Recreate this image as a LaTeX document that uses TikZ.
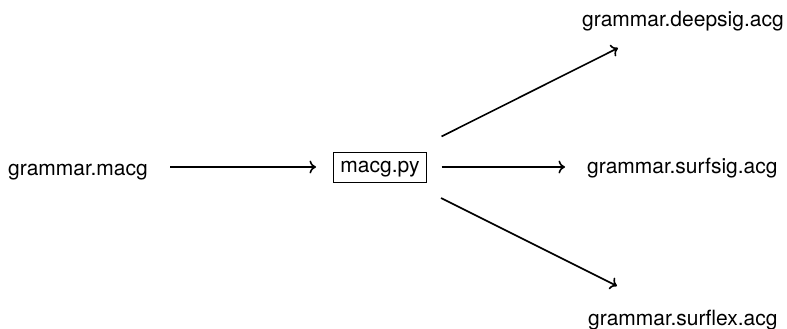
\documentclass[tikz,border=0pt]{standalone}
\usepackage{fontspec}
\setmainfont{TeX Gyre Heros}
\usetikzlibrary{arrows.meta}
\begin{document}
\begin{tikzpicture}[x=1pt,y=-1pt,
  lbl/.style={inner sep=0pt,font=\fontsize{21}{25}\selectfont},
  prog/.style={draw,line width=1.4pt,inner xsep=7pt,inner ysep=5.5pt,text height=15pt,text depth=4.5pt,font=\fontsize{21}{25}\selectfont},
  arr/.style={line width=1.6pt,-{To[length=6.5pt,width=13pt]}}]
\useasboundingbox (0,0) rectangle (787,329);
\node[lbl,anchor=base west] (macg) at (8,175) {grammar.macg};
\node[prog] (py) at (380,167.5) {macg.py};
\node[lbl,anchor=base west] (surfsig) at (587,173) {grammar.surfsig.acg};
\node[lbl,anchor=base west] (deepsig) at (582,27) {grammar.deepsig.acg};
\node[lbl,anchor=base west] (surflex) at (588,325) {grammar.surflex.acg};
\coordinate (a1s) at (170,167);
\coordinate (a1e) at (316,167);
\coordinate (a2s) at (441.5,167);
\coordinate (a2e) at (565,167);
\coordinate (ups) at (441.5,136.5);
\coordinate (upe) at (618,48);
\coordinate (dns) at (441,198);
\coordinate (dne) at (617,286);
\draw[arr] (a1s) -- (a1e);
\draw[arr] (a2s) -- (a2e);
\draw[arr] (ups) -- (upe);
\draw[arr] (dns) -- (dne);
\end{tikzpicture}
\end{document}
